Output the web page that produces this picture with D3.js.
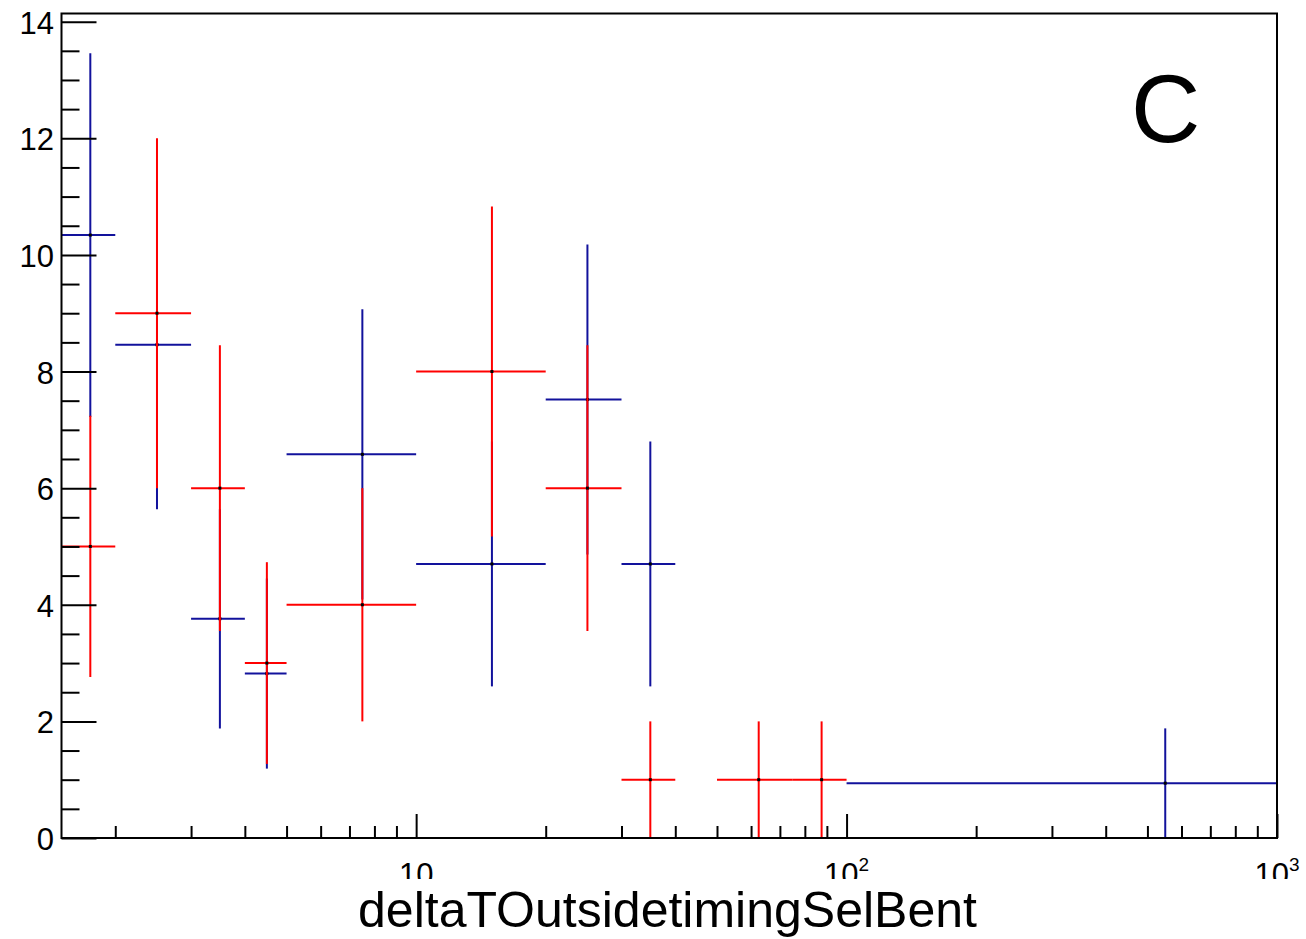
<!DOCTYPE html>
<html>
<head>
<meta charset="utf-8">
<script src="https://cdn.jsdelivr.net/npm/d3@7"></script>
<style>
  html, body { margin: 0; padding: 0; background: #fff; }
  svg { display: block; }
  text { font-family: "Liberation Sans", Arial, Helvetica, sans-serif; fill: #000; }
</style>
</head>
<body>
<svg id="chart" width="1306" height="939"></svg>
<script>
// ---- data ----
const binEdges = [1.5, 2, 3, 4, 5, 10, 20, 30, 40, 50, 75, 100, 1000];
const redValues  = [5, 9, 6, 3, 4, 8, 6, 1, 0, 1, 1, 0];
const redErrors  = [2.24, 3.0, 2.45, 1.73, 2.0, 2.83, 2.45, 1.0, 0, 1.0, 1.0, 0];
const blueValues = [10.34, 8.46, 3.76, 2.82, 6.58, 4.70, 7.52, 4.70, 0, 0, 0, 0.94];
const blueErrors = [3.12, 2.82, 1.88, 1.63, 2.49, 2.10, 2.66, 2.10, 0, 0, 0, 0.94];
const yMajorTicks = [0, 2, 4, 6, 8, 10, 12, 14];
const xMajorTicks = [10, 100, 1000];
const xTickBase = ["10", "10", "10"];
const xTickExp = ["", "2", "3"];
const xTitle = "deltaTOutsidetimingSelBent";
const panelLabel = "C";

// ---- layout ----
const L = 61.5, R = 1277, T = 13.5, B = 838;
const svg = d3.select("#chart");
const x = d3.scaleLog().domain([1.5, 1000]).range([L, R]);
const y = d3.scaleLinear().domain([0, 14.14]).range([B, T]);

const defs = svg.append("defs");
defs.append("clipPath").attr("id", "plotclip")
  .append("rect").attr("x", L).attr("y", T).attr("width", R - L).attr("height", B - T);
defs.append("clipPath").attr("id", "labclip")
  .append("rect").attr("x", 0).attr("y", 840).attr("width", 1306).attr("height", 39);

// ---- series ----
function drawSeries(values, errors, color) {
  const bins = values.map((v, i) => ({
    lo: binEdges[i], hi: binEdges[i + 1], c: (binEdges[i] + binEdges[i + 1]) / 2, v, e: errors[i]
  })).filter(d => d.v > 0);
  const g = svg.append("g").attr("clip-path", "url(#plotclip)");
  g.selectAll("line.h").data(bins).join("line")
    .attr("x1", d => x(d.lo)).attr("x2", d => x(d.hi))
    .attr("y1", d => y(d.v)).attr("y2", d => y(d.v))
    .attr("stroke", color).attr("stroke-width", 2);
  g.selectAll("line.v").data(bins).join("line")
    .attr("x1", d => x(d.c)).attr("x2", d => x(d.c))
    .attr("y1", d => y(Math.max(0, d.v - d.e))).attr("y2", d => y(d.v + d.e))
    .attr("stroke", color).attr("stroke-width", 2);
  g.selectAll("rect.m").data(bins).join("rect")
    .attr("x", d => x(d.c) - 1.5).attr("y", d => y(d.v) - 1.5)
    .attr("width", 3).attr("height", 3).attr("fill", "#000");
}
drawSeries(blueValues, blueErrors, "#12129c");
drawSeries(redValues, redErrors, "#ff0000");

// ---- axes ----
const yMinor = d3.range(0, 14.01, 0.5).filter(v => v % 2 !== 0);
const yAx = svg.append("g").attr("transform", `translate(${L},0)`);
yAx.call(d3.axisLeft(y).tickValues(yMinor).tickSize(-18).tickFormat(""));
const yAxM = svg.append("g").attr("transform", `translate(${L},0)`);
yAxM.call(d3.axisLeft(y).tickValues(yMajorTicks).tickSize(-35).tickFormat(""));
[yAx, yAxM].forEach(g => {
  g.select(".domain").remove();
  g.selectAll(".tick line").attr("stroke", "#000").attr("stroke-width", 2);
});
svg.append("g").selectAll("text").data(yMajorTicks).join("text")
  .attr("x", 54).attr("y", d => y(d) + 12)
  .attr("text-anchor", "end").attr("font-size", 31)
  .text(d => d);

const xMinor = [];
[1, 10, 100].forEach(dec => { for (let k = 2; k <= 9; k++) { const v = k * dec; if (v >= 1.5 && v <= 1000) xMinor.push(v); } });
const xAx = svg.append("g").attr("transform", `translate(0,${B})`);
xAx.call(d3.axisBottom(x).tickValues(xMinor).tickSize(-12).tickFormat(""));
const xAxM = svg.append("g").attr("transform", `translate(0,${B})`);
xAxM.call(d3.axisBottom(x).tickValues(xMajorTicks).tickSize(-24).tickFormat(""));
[xAx, xAxM].forEach(g => {
  g.select(".domain").remove();
  g.selectAll(".tick line").attr("stroke", "#000").attr("stroke-width", 2);
});
const xl = svg.append("g").attr("clip-path", "url(#labclip)");
xMajorTicks.forEach((t, i) => {
  const tx = xl.append("text").attr("x", x(t)).attr("y", 885)
    .attr("text-anchor", "middle").attr("font-size", 31);
  tx.append("tspan").text(xTickBase[i]);
  if (xTickExp[i]) tx.append("tspan").attr("font-size", 19).attr("dy", -14).text(xTickExp[i]);
});

// ---- frame ----
svg.append("rect").attr("x", L).attr("y", T).attr("width", R - L).attr("height", B - T)
  .attr("fill", "none").attr("stroke", "#000").attr("stroke-width", 2);

// ---- titles ----
svg.append("text").attr("x", 667.5).attr("y", 927).attr("text-anchor", "middle")
  .attr("font-size", 50).text(xTitle);
svg.append("text").attr("x", 1131).attr("y", 142).attr("font-size", 96).text(panelLabel);
</script>
</body>
</html>
